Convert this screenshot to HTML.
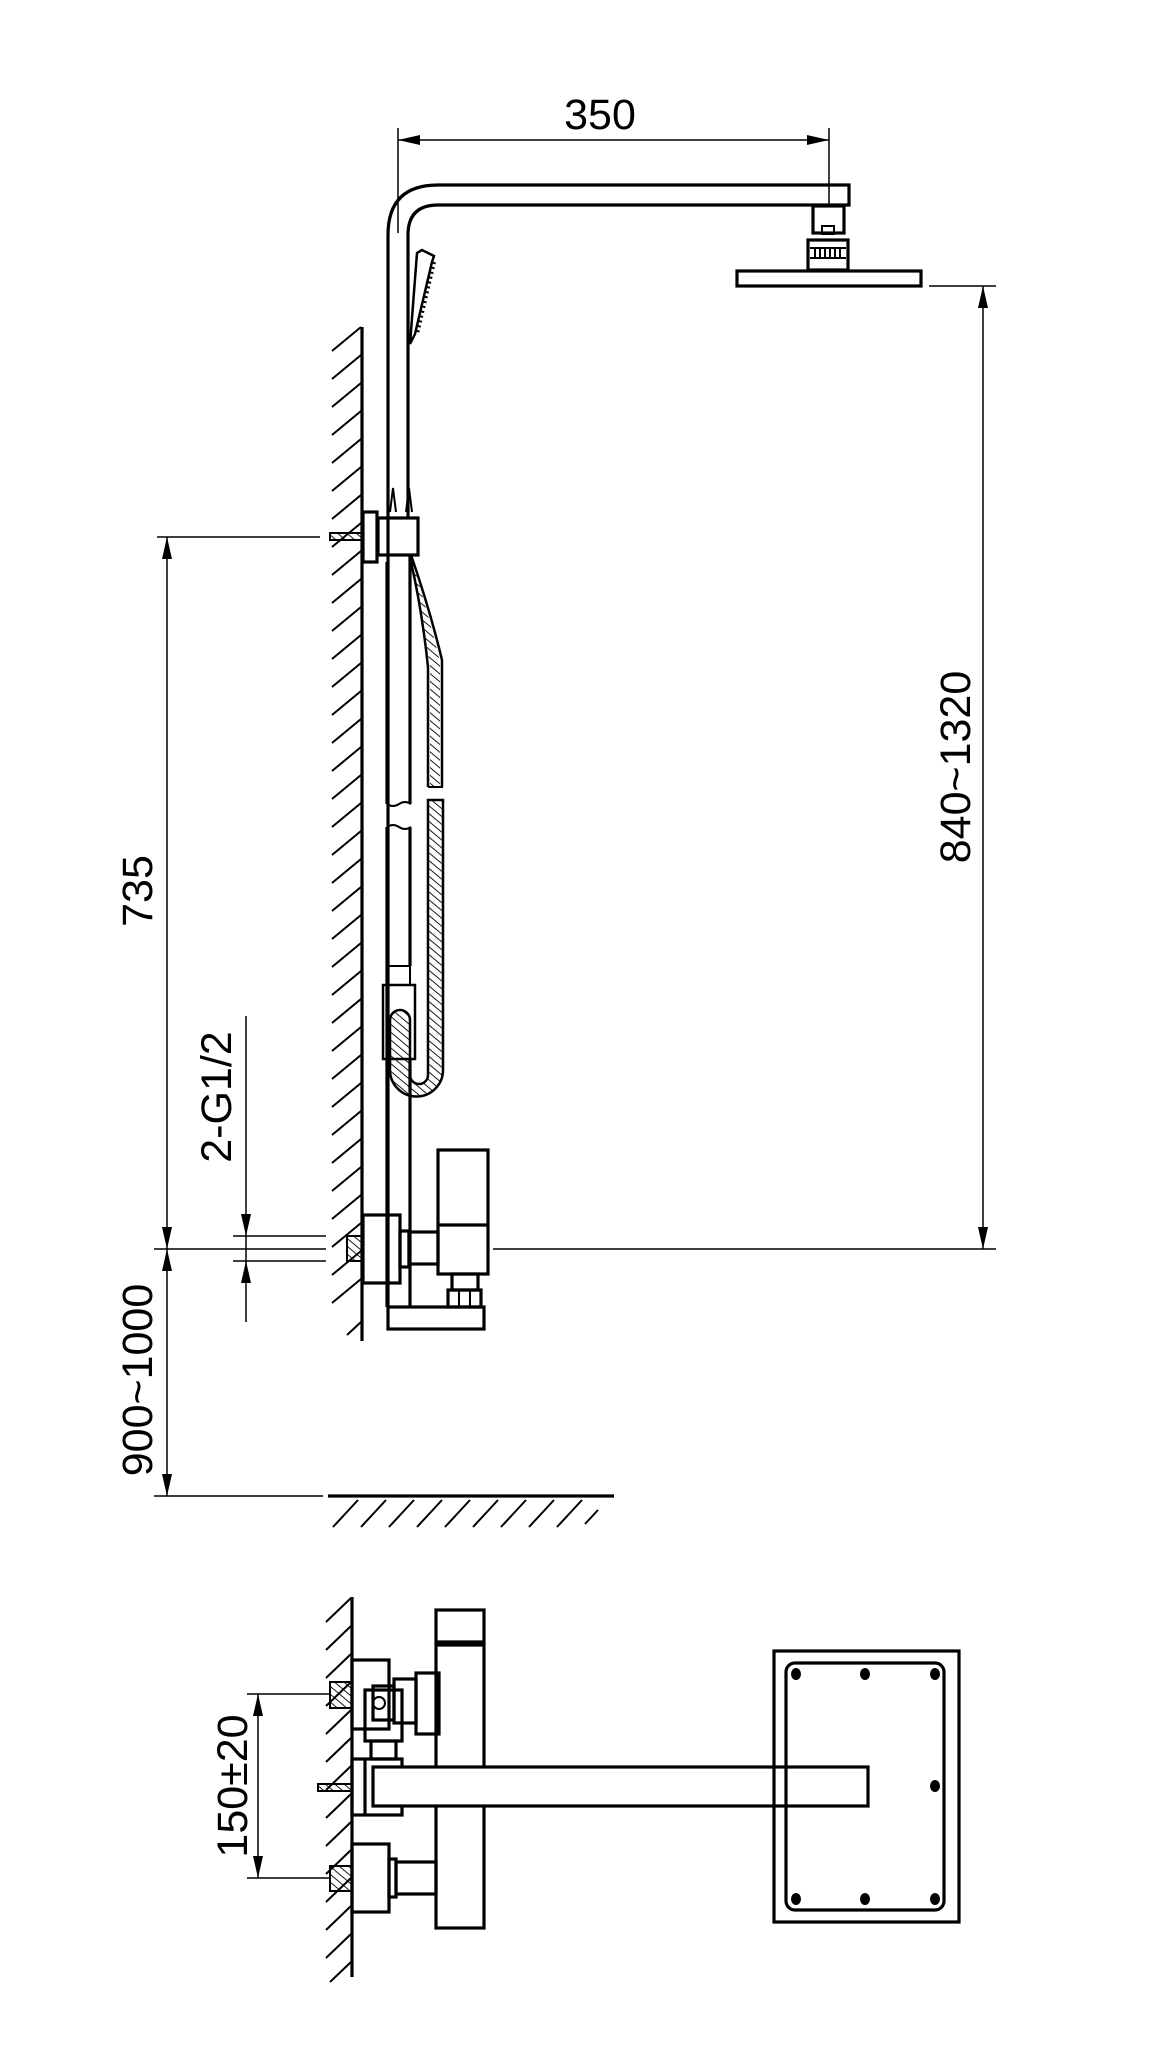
<!DOCTYPE html>
<html><head><meta charset="utf-8"><style>
html,body{margin:0;padding:0;background:#fff;}
svg{display:block;}
text{font-family:"Liberation Sans",Arial,sans-serif;font-size:43px;fill:#000;}
</style></head><body>
<svg width="1165" height="2047" viewBox="0 0 1165 2047" xmlns="http://www.w3.org/2000/svg">
<defs>
<pattern id="hh" width="6" height="6" patternUnits="userSpaceOnUse" patternTransform="rotate(-50)">
<line x1="0" y1="0" x2="0" y2="6" stroke="#000" stroke-width="1.8"/>
</pattern>
</defs>
<g fill="none" stroke="#000" stroke-width="3.2">
<line x1="362" y1="327" x2="362" y2="1341"/>
<path d="M388 1307 V235 Q388 185 438 185 H849 V205 H438 Q408 205 408 235 V518"/>
<line x1="410" y1="555" x2="410" y2="804"/>
<line x1="387" y1="562" x2="387" y2="804"/>
<path d="M387 804 q6 4 12 0 t12 0" stroke-width="2"/>
<path d="M387 827 q6 -4 12 0 t12 0" stroke-width="2"/>
<line x1="387" y1="827" x2="387" y2="1307"/>
<line x1="410" y1="827" x2="410" y2="966"/>
<line x1="410" y1="1059" x2="410" y2="1307"/>
<path d="M390 512 L393 488 L396 512 M406 512 L409 488 L412 512" stroke-width="2"/>
<rect x="813" y="206" width="31" height="27"/>
<rect x="822" y="226" width="12" height="8" stroke-width="2"/>
<rect x="808" y="240" width="40" height="30"/>
<line x1="810" y1="248" x2="846" y2="248" stroke-width="2"/>
<line x1="810" y1="258" x2="846" y2="258" stroke-width="2"/>
<path d="M815 249v8M820 249v8M825 249v8M830 249v8M835 249v8M840 249v8" stroke-width="2"/>
<rect x="737" y="271" width="184" height="15"/>
<path d="M417 253 L422 250 L434 256 L432 262 L415 334 L410 344 Z" stroke-width="2.5"/>
<path d="M434 262 L417 334" stroke-width="4" stroke-dasharray="2 3"/>
<rect x="363" y="512" width="14" height="50"/>
<rect x="378" y="518" width="40" height="37"/>
<path d="M411 555 Q430 610 442 660 V787 M411 562 Q422 610 428 667 V787" stroke-width="2.5"/>
<path d="M411 558 Q428 612 440 662 V787 H430 V667 Q422 612 411 558Z" fill="url(#hh)" stroke="none"/>
<path d="M428 800 V1075 A9 9 0 0 1 410 1075 V1020 A10 10 0 0 0 390 1020 V1070 A26 26 0 0 0 443 1070 V800 Z" fill="url(#hh)" stroke-width="2.5"/>
<line x1="428" y1="787" x2="443" y2="787" stroke-width="2"/>
<line x1="428" y1="800" x2="443" y2="800" stroke-width="2"/>
<rect x="383" y="985" width="32" height="74" stroke-width="2.5"/>
<rect x="387" y="966" width="23" height="19" stroke-width="2"/>
<rect x="363" y="1215" width="37" height="68"/>
<rect x="400" y="1231" width="9" height="36"/>
<rect x="409" y="1232" width="29" height="32"/>
<rect x="438" y="1150" width="50" height="124"/>
<line x1="438" y1="1225" x2="488" y2="1225"/>
<rect x="452" y="1274" width="26" height="16"/>
<rect x="448" y="1290" width="33" height="17"/>
<line x1="459" y1="1290" x2="459" y2="1307" stroke-width="2"/>
<line x1="470" y1="1290" x2="470" y2="1307" stroke-width="2"/>
<rect x="388" y="1307" width="96" height="22"/>
<line x1="328" y1="1496" x2="614" y2="1496"/>
<line x1="352" y1="1597" x2="352" y2="1977"/>
<rect x="436" y="1610" width="48" height="318"/>
<line x1="436" y1="1642" x2="484" y2="1642"/>
<line x1="436" y1="1645" x2="484" y2="1645"/>
<rect x="352" y="1660" width="37" height="69"/>
<rect x="365" y="1690" width="37" height="51"/>
<rect x="373" y="1686" width="21" height="34"/>
<rect x="394" y="1679" width="22" height="44"/>
<rect x="416" y="1673" width="23" height="61"/>
<rect x="371" y="1741" width="25" height="18"/>
<rect x="352" y="1759" width="50" height="56"/>
<line x1="365" y1="1759" x2="365" y2="1815"/>
<rect x="373" y="1767" width="495" height="39" fill="#fff"/>
<rect x="352" y="1844" width="37" height="68"/>
<rect x="389" y="1859" width="7" height="38"/>
<rect x="396" y="1862" width="40" height="32"/>
<rect x="774" y="1651" width="185" height="271"/>
<rect x="786" y="1663" width="158" height="247" rx="9"/>
<g stroke-width="2">
<path d="M332 351 L361 327 M332 379 L361 355 M332 407 L361 383 M332 435 L361 411 M332 463 L361 439 M332 491 L361 467 M332 519 L361 495 M332 547 L361 523 M332 575 L361 551 M332 603 L361 579 M332 631 L361 607 M332 659 L361 635 M332 687 L361 663 M332 715 L361 691 M332 743 L361 719 M332 771 L361 747 M332 799 L361 775 M332 827 L361 803 M332 855 L361 831 M332 883 L361 859 M332 911 L361 887 M332 939 L361 915 M332 967 L361 943 M332 995 L361 971 M332 1023 L361 999 M332 1051 L361 1027 M332 1079 L361 1055 M332 1107 L361 1083 M332 1135 L361 1111 M332 1163 L361 1139 M332 1191 L361 1167 M332 1219 L361 1195 M332 1247 L361 1223 M332 1275 L361 1251 M332 1303 L361 1279 M347 1335 L361 1322"/>
<path d="M333 1527 L358 1500 M361 1527 L386 1500 M389 1527 L414 1500 M417 1527 L442 1500 M445 1527 L470 1500 M473 1527 L498 1500 M501 1527 L526 1500 M529 1527 L554 1500 M557 1527 L582 1500 M585 1524 L598 1510"/>
<path d="M326 1622 L351 1598 M326 1650 L351 1626 M326 1678 L351 1654 M326 1706 L351 1682 M326 1734 L351 1710 M326 1762 L351 1738 M326 1790 L351 1766 M326 1818 L351 1794 M326 1846 L351 1822 M326 1874 L351 1850 M326 1902 L351 1878 M326 1930 L351 1906 M326 1958 L351 1934 M330 1982 L351 1962"/>
</g>
<rect x="330" y="533" width="32" height="7" fill="url(#hh)" stroke-width="2"/>
<rect x="347" y="1236" width="15" height="25" fill="url(#hh)" stroke-width="2"/>
<rect x="330" y="1682" width="22" height="26" fill="url(#hh)" stroke-width="2"/>
<rect x="318" y="1784" width="34" height="7" fill="url(#hh)" stroke-width="2"/>
<rect x="330" y="1866" width="22" height="25" fill="url(#hh)" stroke-width="2"/>
<circle cx="379" cy="1703" r="6" stroke-width="2"/>
</g>
<g fill="#000">
<ellipse cx="796" cy="1674" rx="5" ry="6"/><ellipse cx="865" cy="1674" rx="5" ry="6"/><ellipse cx="935" cy="1674" rx="5" ry="6"/>
<ellipse cx="935" cy="1786" rx="5" ry="6"/>
<ellipse cx="796" cy="1899" rx="5" ry="6"/><ellipse cx="865" cy="1899" rx="5" ry="6"/><ellipse cx="935" cy="1899" rx="5" ry="6"/>
</g>
<g fill="none" stroke="#000" stroke-width="1.5">
<line x1="398" y1="128" x2="398" y2="233"/>
<line x1="829" y1="128" x2="829" y2="206"/>
<line x1="398" y1="140" x2="829" y2="140"/>
<line x1="929" y1="286" x2="996" y2="286"/>
<line x1="983" y1="286" x2="983" y2="1249"/>
<line x1="493" y1="1249" x2="996" y2="1249"/>
<line x1="157" y1="537" x2="320" y2="537"/>
<line x1="167" y1="537" x2="167" y2="1496"/>
<line x1="154" y1="1249" x2="326" y2="1249"/>
<line x1="233" y1="1236" x2="326" y2="1236"/>
<line x1="233" y1="1261" x2="326" y2="1261"/>
<line x1="246" y1="1016" x2="246" y2="1322"/>
<line x1="154" y1="1496" x2="323" y2="1496"/>
<line x1="247" y1="1694" x2="330" y2="1694"/>
<line x1="247" y1="1878" x2="330" y2="1878"/>
<line x1="258" y1="1694" x2="258" y2="1878"/>
</g>
<g fill="#000">
<path d="M398 140 l22 -5 v10z"/><path d="M829 140 l-22 -5 v10z"/>
<path d="M983 286 l-5 22 h10z"/><path d="M983 1249 l-5 -22 h10z"/>
<path d="M167 537 l-5 22 h10z"/><path d="M167 1249 l-5 -22 h10z"/>
<path d="M167 1249 l-5 22 h10z"/><path d="M167 1496 l-5 -22 h10z"/>
<path d="M246 1236 l-5 -22 h10z"/><path d="M246 1261 l-5 22 h10z"/>
<path d="M258 1694 l-5 22 h10z"/><path d="M258 1878 l-5 -22 h10z"/>
</g>
<text x="600" y="129" text-anchor="middle">350</text>
<text transform="translate(970 767) rotate(-90)" text-anchor="middle">840~1320</text>
<text transform="translate(152 891) rotate(-90)" text-anchor="middle">735</text>
<text transform="translate(231 1097) rotate(-90)" text-anchor="middle">2-G1/2</text>
<text transform="translate(152 1380) rotate(-90)" text-anchor="middle">900~1000</text>
<text transform="translate(247 1786) rotate(-90)" text-anchor="middle">150±20</text>
</svg>
</body></html>
